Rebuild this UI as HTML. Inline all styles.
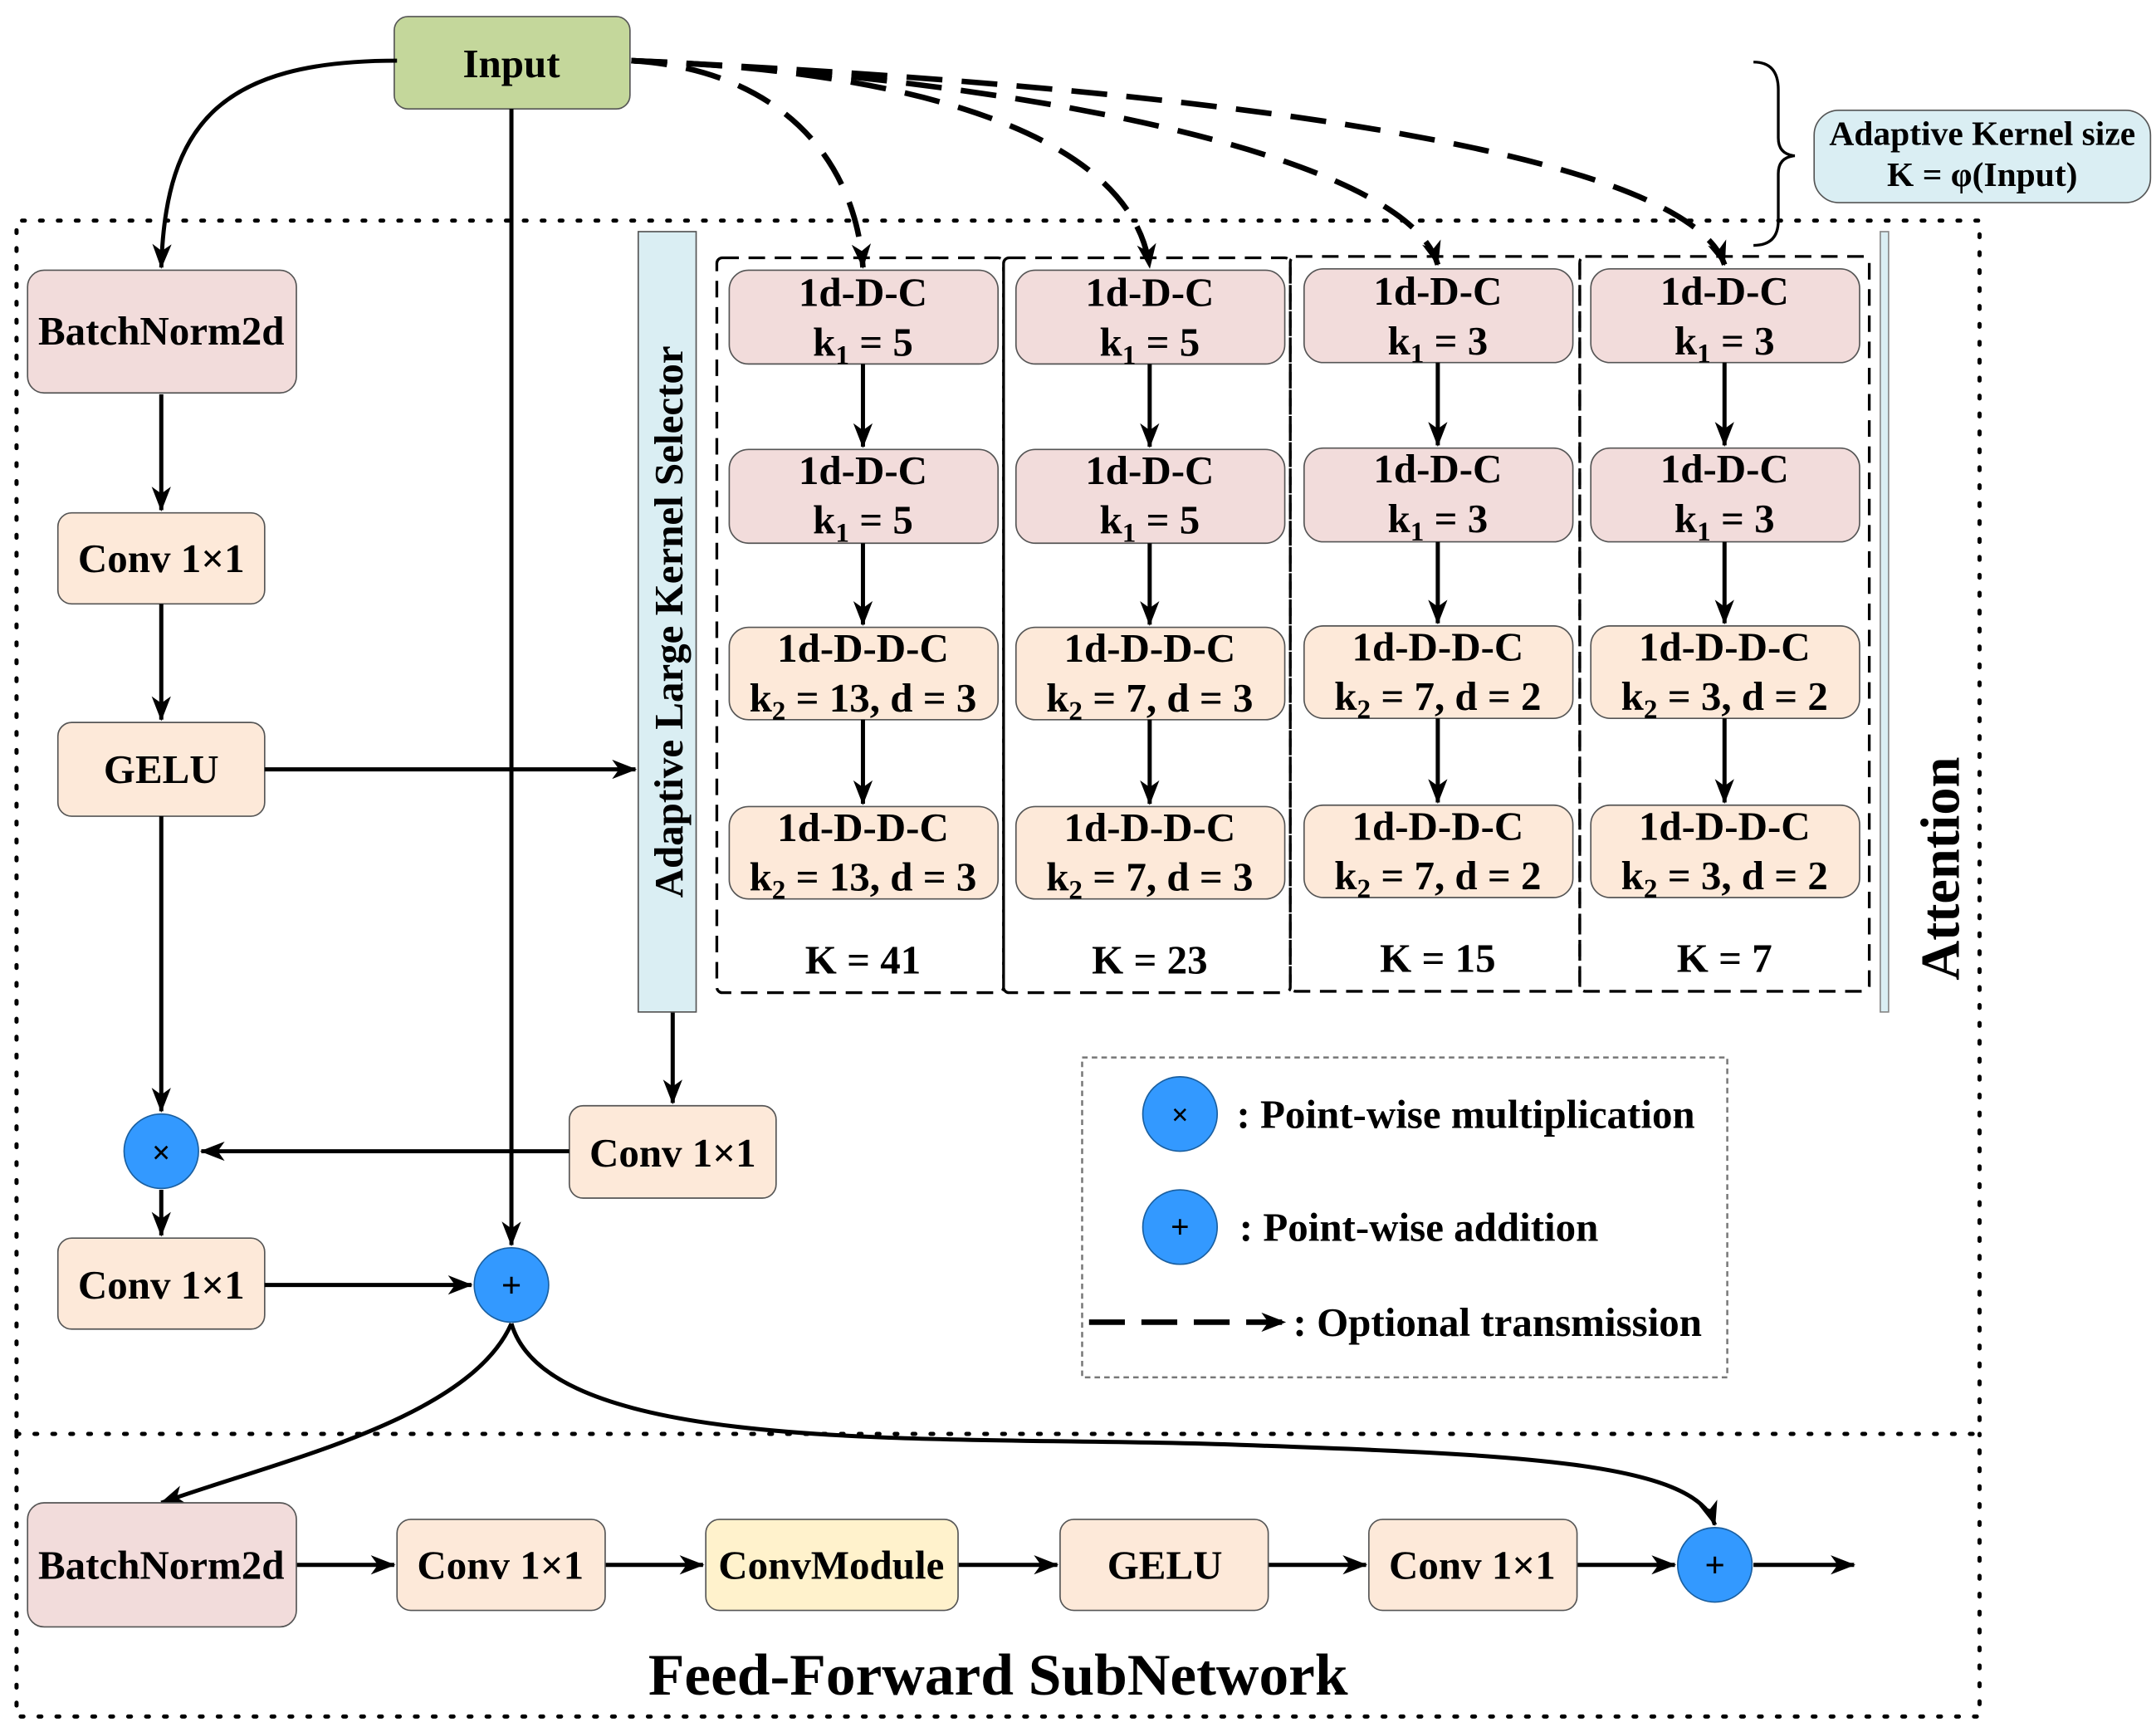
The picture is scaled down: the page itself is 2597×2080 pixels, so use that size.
<!DOCTYPE html>
<html><head><meta charset="utf-8"><style>
html,body{margin:0;padding:0;background:#fff;}
svg{display:block;}
text{font-family:"Liberation Serif",serif;font-weight:bold;fill:#000;}
</style></head><body>
<svg width="2597" height="2080" viewBox="0 0 1564 1252.6" preserveAspectRatio="none" xmlns="http://www.w3.org/2000/svg">
<defs>
<marker id="b" markerWidth="18" markerHeight="14" refX="17" refY="7" orient="auto" markerUnits="userSpaceOnUse" viewBox="0 0 18 14"><path d="M0,0 L18,7 L0,14 L5,7 z" fill="#000"/></marker>
</defs>
<!-- dotted frames -->
<g fill="none" stroke="#000" stroke-width="3" stroke-dasharray="2 11" stroke-linecap="round">
<path d="M12,1040 L12,160 L1436,160 L1436,1040"/>
<path d="M12,1040 L1436,1040"/>
<path d="M12,1040 L12,1245 L1436,1245 L1436,1040"/>
</g>

<!-- Input -->
<rect x="286" y="12" width="171" height="67" rx="10" fill="#c4d79b" stroke="#555"/>
<text x="371" y="56" font-size="29.5" text-anchor="middle">Input</text>

<!-- brace & adaptive box -->
<path d="M1272,45 Q1290,45 1290,65 L1290,100 Q1290,112 1302,113 Q1290,114 1290,126 L1290,160 Q1290,178 1272,178" fill="none" stroke="#000" stroke-width="2"/>
<rect x="1316" y="80" width="244" height="67" rx="18" fill="#daeef3" stroke="#555"/>
<text x="1438" y="105" font-size="25" text-anchor="middle">Adaptive Kernel size</text>
<text x="1438" y="135" font-size="25" text-anchor="middle">K = φ(Input)</text>

<!-- dashed transmissions -->
<g fill="none" stroke="#000" stroke-width="4" stroke-dasharray="26 14" marker-end="url(#b)">
<path d="M458,44 C560,50 620,110 626,194"/>
<path d="M458,44 C640,50 820,90 834,194"/>
<path d="M458,44 C720,55 1020,110 1043,192"/>
<path d="M458,44 C800,60 1220,100 1251,192"/>
</g>

<!-- Left column -->
<g font-size="29.5" text-anchor="middle">
<rect x="20" y="196" width="195" height="89" rx="12" fill="#f2dcdb" stroke="#555"/>
<text x="117" y="250">BatchNorm2d</text>
<rect x="42" y="372" width="150" height="66" rx="10" fill="#fde9d9" stroke="#555"/>
<text x="117" y="415">Conv 1×1</text>
<rect x="42" y="524" width="150" height="68" rx="10" fill="#fde9d9" stroke="#555"/>
<text x="117" y="568">GELU</text>
<rect x="42" y="898" width="150" height="66" rx="10" fill="#fde9d9" stroke="#555"/>
<text x="117" y="942">Conv 1×1</text>
<rect x="413" y="802" width="150" height="67" rx="10" fill="#fde9d9" stroke="#555"/>
<text x="488" y="846">Conv 1×1</text>
</g>

<g stroke="#000" stroke-width="3" fill="none" marker-end="url(#b)">
<path d="M288,44 C160,44 120,90 117,194"/>
<path d="M117,286 L117,370"/>
<path d="M117,438 L117,522"/>
<path d="M117,592 L117,806"/>
<path d="M192,558 L461,558"/>
<path d="M488,734 L488,800"/>
<path d="M413,835 L146,835"/>
<path d="M117,863 L117,896"/>
<path d="M371,79 L371,903"/>
<path d="M192,932 L342,932"/>
<path d="M371,960 C340,1030 200,1060 117,1090"/>
<path d="M371,960 C400,1060 700,1040 900,1048 C1100,1055 1230,1060 1244,1106"/>
<path d="M215,1135 L286,1135"/>
<path d="M439,1135 L510,1135"/>
<path d="M695,1135 L767,1135"/>
<path d="M920,1135 L991,1135"/>
<path d="M1144,1135 L1215,1135"/>
<path d="M1272,1135 L1345,1135"/>
</g>

<circle cx="117" cy="835" r="27" fill="#3399ff" stroke="#1a5fa0"/>
<text x="117" y="844" font-size="24" text-anchor="middle" font-weight="normal">×</text>
<circle cx="371" cy="932" r="27" fill="#3399ff" stroke="#1a5fa0"/>
<text x="371" y="941" font-size="26" text-anchor="middle" font-weight="normal">+</text>

<!-- selector bar -->
<rect x="463" y="168" width="42" height="566" fill="#daeef3" stroke="#555"/>
<text transform="translate(495,451) rotate(-90)" font-size="29.5" text-anchor="middle">Adaptive Large Kernel Selector</text>
<rect x="1364" y="168" width="6" height="566" fill="#daeef3" stroke="#888"/>
<text transform="translate(1421,630) rotate(-90)" font-size="40" text-anchor="middle">Attention</text>

<!-- columns -->
<g fill="none" stroke="#000" stroke-width="2" stroke-dasharray="12 7">
<rect x="520" y="187" width="208" height="533" rx="4"/>
<rect x="728" y="187" width="208" height="533" rx="4"/>
<rect x="936" y="186" width="210" height="533" rx="4"/>
<rect x="1146" y="186" width="210" height="533" rx="4"/>
</g>

<g font-size="29.5" text-anchor="middle">
<g transform="translate(626,0)">
<rect x="-97" y="196" width="195" height="68" rx="14" fill="#f2dcdb" stroke="#555"/>
<text y="222">1d-D-C</text><text y="258">k<tspan font-size="20" dy="6">1</tspan><tspan dy="-6"> = 5</tspan></text>
<rect x="-97" y="326" width="195" height="68" rx="14" fill="#f2dcdb" stroke="#555"/>
<text y="351">1d-D-C</text><text y="387">k<tspan font-size="20" dy="6">1</tspan><tspan dy="-6"> = 5</tspan></text>
<rect x="-97" y="455" width="195" height="67" rx="14" fill="#fde9d9" stroke="#555"/>
<text y="480">1d-D-D-C</text><text y="516">k<tspan font-size="20" dy="6">2</tspan><tspan dy="-6"> = 13, d = 3</tspan></text>
<rect x="-97" y="585" width="195" height="67" rx="14" fill="#fde9d9" stroke="#555"/>
<text y="610">1d-D-D-C</text><text y="646">k<tspan font-size="20" dy="6">2</tspan><tspan dy="-6"> = 13, d = 3</tspan></text>
<text y="706">K = 41</text>
</g>
<g transform="translate(834,0)">
<rect x="-97" y="196" width="195" height="68" rx="14" fill="#f2dcdb" stroke="#555"/>
<text y="222">1d-D-C</text><text y="258">k<tspan font-size="20" dy="6">1</tspan><tspan dy="-6"> = 5</tspan></text>
<rect x="-97" y="326" width="195" height="68" rx="14" fill="#f2dcdb" stroke="#555"/>
<text y="351">1d-D-C</text><text y="387">k<tspan font-size="20" dy="6">1</tspan><tspan dy="-6"> = 5</tspan></text>
<rect x="-97" y="455" width="195" height="67" rx="14" fill="#fde9d9" stroke="#555"/>
<text y="480">1d-D-D-C</text><text y="516">k<tspan font-size="20" dy="6">2</tspan><tspan dy="-6"> = 7, d = 3</tspan></text>
<rect x="-97" y="585" width="195" height="67" rx="14" fill="#fde9d9" stroke="#555"/>
<text y="610">1d-D-D-C</text><text y="646">k<tspan font-size="20" dy="6">2</tspan><tspan dy="-6"> = 7, d = 3</tspan></text>
<text y="706">K = 23</text>
</g>
<g transform="translate(1043,-1)">
<rect x="-97" y="196" width="195" height="68" rx="14" fill="#f2dcdb" stroke="#555"/>
<text y="222">1d-D-C</text><text y="258">k<tspan font-size="20" dy="6">1</tspan><tspan dy="-6"> = 3</tspan></text>
<rect x="-97" y="326" width="195" height="68" rx="14" fill="#f2dcdb" stroke="#555"/>
<text y="351">1d-D-C</text><text y="387">k<tspan font-size="20" dy="6">1</tspan><tspan dy="-6"> = 3</tspan></text>
<rect x="-97" y="455" width="195" height="67" rx="14" fill="#fde9d9" stroke="#555"/>
<text y="480">1d-D-D-C</text><text y="516">k<tspan font-size="20" dy="6">2</tspan><tspan dy="-6"> = 7, d = 2</tspan></text>
<rect x="-97" y="585" width="195" height="67" rx="14" fill="#fde9d9" stroke="#555"/>
<text y="610">1d-D-D-C</text><text y="646">k<tspan font-size="20" dy="6">2</tspan><tspan dy="-6"> = 7, d = 2</tspan></text>
<text y="706">K = 15</text>
</g>
<g transform="translate(1251,-1)">
<rect x="-97" y="196" width="195" height="68" rx="14" fill="#f2dcdb" stroke="#555"/>
<text y="222">1d-D-C</text><text y="258">k<tspan font-size="20" dy="6">1</tspan><tspan dy="-6"> = 3</tspan></text>
<rect x="-97" y="326" width="195" height="68" rx="14" fill="#f2dcdb" stroke="#555"/>
<text y="351">1d-D-C</text><text y="387">k<tspan font-size="20" dy="6">1</tspan><tspan dy="-6"> = 3</tspan></text>
<rect x="-97" y="455" width="195" height="67" rx="14" fill="#fde9d9" stroke="#555"/>
<text y="480">1d-D-D-C</text><text y="516">k<tspan font-size="20" dy="6">2</tspan><tspan dy="-6"> = 3, d = 2</tspan></text>
<rect x="-97" y="585" width="195" height="67" rx="14" fill="#fde9d9" stroke="#555"/>
<text y="610">1d-D-D-C</text><text y="646">k<tspan font-size="20" dy="6">2</tspan><tspan dy="-6"> = 3, d = 2</tspan></text>
<text y="706">K = 7</text>
</g>
</g>
<g stroke="#000" stroke-width="3" marker-end="url(#b)">
<line x1="626" y1="264" x2="626" y2="324"/><line x1="626" y1="394" x2="626" y2="453"/><line x1="626" y1="522" x2="626" y2="583"/>
<line x1="834" y1="264" x2="834" y2="324"/><line x1="834" y1="394" x2="834" y2="453"/><line x1="834" y1="522" x2="834" y2="583"/>
<line x1="1043" y1="263" x2="1043" y2="323"/><line x1="1043" y1="393" x2="1043" y2="452"/><line x1="1043" y1="521" x2="1043" y2="582"/>
<line x1="1251" y1="263" x2="1251" y2="323"/><line x1="1251" y1="393" x2="1251" y2="452"/><line x1="1251" y1="521" x2="1251" y2="582"/>
</g>

<!-- legend -->
<rect x="785" y="767" width="468" height="232" fill="none" stroke="#777" stroke-width="1.5" stroke-dasharray="4 3"/>
<circle cx="856" cy="808" r="27" fill="#3399ff" stroke="#1a5fa0"/>
<text x="856" y="816" font-size="22" text-anchor="middle" font-weight="normal">×</text>
<text x="897" y="818" font-size="29.5">: Point-wise multiplication</text>
<circle cx="856" cy="890" r="27" fill="#3399ff" stroke="#1a5fa0"/>
<text x="856" y="898" font-size="24" text-anchor="middle" font-weight="normal">+</text>
<text x="899" y="900" font-size="29.5">: Point-wise addition</text>
<line x1="790" y1="959" x2="932" y2="959" stroke="#000" stroke-width="4" stroke-dasharray="26 12" marker-end="url(#b)"/>
<text x="938" y="969" font-size="29.5">: Optional transmission</text>

<!-- bottom row -->
<g font-size="29.5" text-anchor="middle">
<rect x="20" y="1090" width="195" height="90" rx="12" fill="#f2dcdb" stroke="#555"/>
<text x="117" y="1145">BatchNorm2d</text>
<rect x="288" y="1102" width="151" height="66" rx="10" fill="#fde9d9" stroke="#555"/>
<text x="363" y="1145">Conv 1×1</text>
<rect x="512" y="1102" width="183" height="66" rx="10" fill="#fff2cc" stroke="#555"/>
<text x="603" y="1145">ConvModule</text>
<rect x="769" y="1102" width="151" height="66" rx="10" fill="#fde9d9" stroke="#555"/>
<text x="845" y="1145">GELU</text>
<rect x="993" y="1102" width="151" height="66" rx="10" fill="#fde9d9" stroke="#555"/>
<text x="1068" y="1145">Conv 1×1</text>
</g>
<circle cx="1244" cy="1135" r="27" fill="#3399ff" stroke="#1a5fa0"/>
<text x="1244" y="1144" font-size="26" text-anchor="middle" font-weight="normal">+</text>
<text x="724" y="1229" font-size="43" text-anchor="middle">Feed-Forward SubNetwork</text>
</svg>
</body></html>
